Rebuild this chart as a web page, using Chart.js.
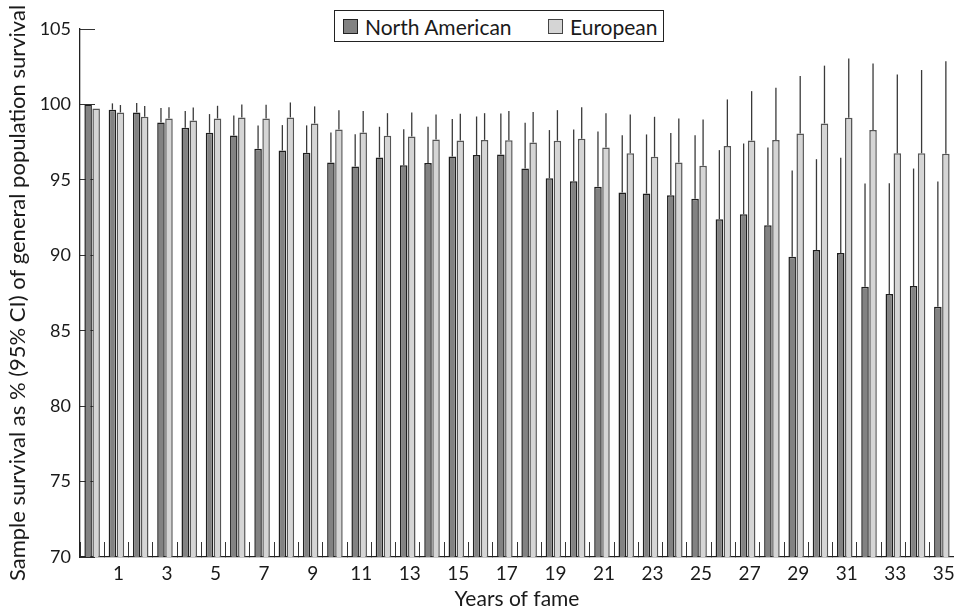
<!DOCTYPE html>
<html>
<head>
<meta charset="utf-8">
<script src="https://cdn.jsdelivr.net/npm/chart.js@4.4.1/dist/chart.umd.min.js"></script>
<style>
  body { margin: 0; background: #fff; overflow: hidden; font-family: Lato, "Noto Sans", sans-serif; }
  #wrap { position: relative; width: 954px; height: 613px; }
  #legend {
    position: absolute; left: 334px; top: 10px; width: 330px; height: 32px;
    box-sizing: border-box; border: 1.3px solid #222; background: #fff;
    font-size: 21px; color: #1a1a1a;
  }
  #legend .item { position: absolute; top: 0; height: 30px; display: flex; align-items: center; white-space: nowrap; }
  #legend .box { width: 15px; height: 15px; box-sizing: border-box; border: 1.3px solid #222; margin-right: 7px; }
</style>
</head>
<body>
<div id="wrap">
  <canvas id="chart"></canvas>
  <div id="legend">
    <span class="item" style="left:8px"><span class="box" style="background:#828282"></span>North American</span>
    <span class="item" style="left:213px"><span class="box" style="background:#d5d5d5;border-color:#444"></span>European</span>
  </div>
</div>
<script>
// years of fame 0..35
const years = ['0','1','2','3','4','5','6','7','8','9','10','11','12','13','14','15','16','17',
               '18','19','20','21','22','23','24','25','26','27','28','29','30','31','32','33','34','35'];

const northAmerican = [100.0, 99.65, 99.47, 98.81, 98.45, 98.12, 97.94, 97.06, 96.95, 96.79,
                       96.15, 95.88, 96.48, 95.97, 96.11, 96.55, 96.64, 96.68, 95.75, 95.11,
                       94.91, 94.54, 94.16, 94.09, 93.98, 93.74, 92.39, 92.72, 91.99, 89.91,
                       90.35, 90.15, 87.92, 87.43, 87.96, 86.59];
const northAmericanUpper = [100.0, 100.07, 100.09, 99.76, 99.56, 99.36, 99.27, 98.61, 98.63, 98.61,
                            98.14, 98.03, 98.52, 98.36, 98.52, 99.03, 99.2, 99.4, 98.78, 98.3,
                            98.34, 98.21, 97.96, 98.01, 98.1, 97.96, 96.97, 97.41, 97.15, 95.62,
                            96.37, 96.46, 94.76, 94.78, 95.75, 94.89];

const european = [99.73, 99.47, 99.18, 99.07, 98.94, 99.07, 99.14, 99.07, 99.14, 98.74,
                  98.34, 98.14, 97.92, 97.88, 97.68, 97.61, 97.65, 97.63, 97.48, 97.59,
                  97.72, 97.15, 96.77, 96.53, 96.15, 95.93, 97.24, 97.61, 97.65, 98.08,
                  98.74, 99.12, 98.3, 96.77, 96.77, 96.73];
const europeanUpper = [99.73, 99.96, 99.89, 99.82, 99.8, 99.91, 100.0, 99.98, 100.13, 99.87,
                       99.62, 99.56, 99.42, 99.47, 99.34, 99.38, 99.42, 99.56, 99.49, 99.62,
                       99.82, 99.42, 99.34, 99.18, 99.07, 99.0, 100.33, 100.88, 101.11, 101.88,
                       102.57, 103.05, 102.72, 101.99, 102.28, 102.86];

const yTicks = [70, 75, 80, 85, 90, 95, 100, 105];

const textColor = '#1a1a1a';
const fontFamily = 'Lato, "Noto Sans", sans-serif';

// upper 95% CI whiskers, drawn from bar top
const errorBars = {
    id: 'errorBars',
    afterDatasetsDraw(chart) {
        const ctx = chart.ctx;
        const y = chart.scales.y;
        const sets = [[northAmerican, northAmericanUpper], [european, europeanUpper]];
        ctx.save();
        ctx.strokeStyle = '#3a3a3a';
        ctx.lineWidth = 1.3;
        sets.forEach((s, di) => {
            const meta = chart.getDatasetMeta(di);
            meta.data.forEach((bar, i) => {
                if (s[1][i] <= s[0][i]) return;
                ctx.beginPath();
                ctx.moveTo(bar.x, y.getPixelForValue(s[0][i]));
                ctx.lineTo(bar.x, y.getPixelForValue(s[1][i]));
                ctx.stroke();
            });
        });
        ctx.restore();
    }
};

const ctx = document.getElementById('chart').getContext('2d');
const myChart = new Chart(ctx, {
    type: 'bar',
    data: {
        labels: years,
        datasets: [{
            label: 'North American',
            data: northAmerican,
            backgroundColor: '#828282',
            borderColor: '#1e1e1e',
            borderWidth: 1.5
        }, {
            label: 'European',
            data: european,
            backgroundColor: '#d5d5d5',
            borderColor: '#555555',
            borderWidth: 1.5
        }]
    },
    options: {
        responsive: true,
        maintainAspectRatio: false,
        animation: false,
        categoryPercentage: 0.66,
        barPercentage: 0.94,
        layout: { padding: { top: 29, right: 0, left: 0, bottom: 0 } },
        plugins: {
            legend: { display: false },
            tooltip: { enabled: false }
        },
        scales: {
            x: {
                offset: true,
                afterFit: s => { s.height = 56; s.paddingLeft = 0; s.paddingRight = 0; },
                grid: {
                    offset: true,
                    drawOnChartArea: false,
                    drawTicks: true,
                    tickLength: -15,
                    tickColor: '#333',
                    tickWidth: 1
                },
                border: { display: true, color: '#222', width: 1.3 },
                ticks: {
                    autoSkip: false,
                    maxRotation: 0,
                    padding: 20,
                    labelOffset: 2,
                    color: textColor,
                    font: { family: fontFamily, size: 19 },
                    callback: function(value, index) {
                        return index % 2 === 1 ? this.getLabelForValue(value) : '';
                    }
                },
                title: {
                    display: true,
                    text: 'Years of fame',
                    color: textColor,
                    font: { family: fontFamily, size: 21 },
                    padding: { top: 1, bottom: 1 }
                }
            },
            y: {
                min: 70,
                max: 105,
                afterFit: s => { s.width = 80; s.paddingTop = 0; s.paddingBottom = 0; },
                afterBuildTicks: s => { s.ticks = yTicks.map(v => ({ value: v })); },
                grid: {
                    drawOnChartArea: false,
                    drawTicks: true,
                    tickLength: -15,
                    tickColor: '#333',
                    tickWidth: 1
                },
                border: { display: true, color: '#222', width: 1.3 },
                ticks: {
                    padding: 24,
                    color: textColor,
                    font: { family: fontFamily, size: 18 }
                },
                title: {
                    display: true,
                    text: 'Sample survival as % (95% CI) of general population survival',
                    color: textColor,
                    font: { family: fontFamily, size: 22 },
                    padding: { top: 5, bottom: 0 }
                }
            }
        }
    },
    plugins: [errorBars]
});
</script>
</body>
</html>
